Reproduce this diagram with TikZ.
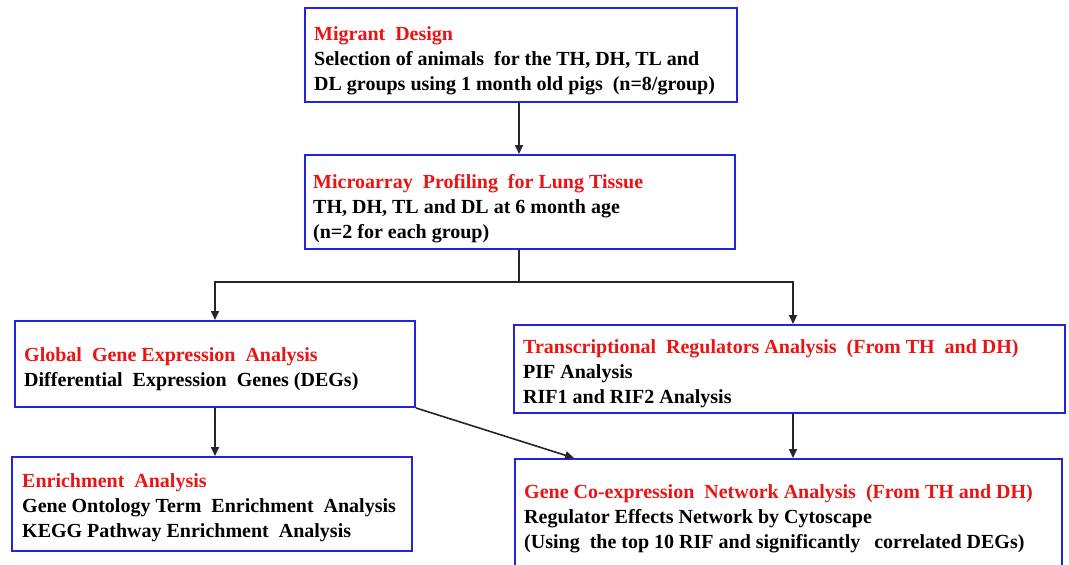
\documentclass[tikz,border=0pt]{standalone}
\usepackage{fontspec}
\setmainfont{Liberation Serif}
\usetikzlibrary{arrows.meta,calc}
\definecolor{boxblue}{RGB}{35,35,225}
\definecolor{headred}{RGB}{235,20,20}
\tikzset{
  box/.style={draw=boxblue, line width=2pt, rectangle, inner sep=0pt},
  txt/.style={anchor=west, align=left, inner sep=0pt, font=\fontsize{20}{25}\selectfont\bfseries},
  arr/.style={draw=black!85, line width=1.6pt, -{Triangle[length=9pt,width=8pt]}},
  lin/.style={draw=black!85, line width=1.6pt},
}
\newcommand{\hd}[1]{\textcolor{headred}{#1}}
\begin{document}
\begin{tikzpicture}[x=1pt,y=-1pt]
\useasboundingbox[fill=white] (0,0) rectangle (1069,565);
% boxes
\node[box, minimum width=432pt, minimum height=94pt] (b1) at (521,55) {};
\node[box, minimum width=430pt, minimum height=94pt] (b2) at (520,202) {};
\node[box, minimum width=400pt, minimum height=86pt] (b3) at (215,364) {};
\node[box, minimum width=551pt, minimum height=88pt] (b4) at (789.5,369) {};
\node[box, minimum width=400pt, minimum height=94pt] (b5) at (212,504) {};
\node[box, minimum width=547pt, minimum height=118pt] (b6) at (788.5,518) {};
% texts
\node[txt] (t1) at ([xshift=10pt,yshift=-6pt]b1.west) {\hd{Migrant\ \ Design}\\Selection of animals\ \ for the TH, DH, TL and\\DL groups using 1 month old pigs\ \ (n=8/group)};
\node[txt] (t2) at ([xshift=9pt,yshift=-7pt]b2.west) {\hd{Microarray\ \ Profiling\ \ for Lung Tissue}\\TH, DH, TL and DL at 6 month age\\(n=2 for each group)};
\node[txt] (t3) at ([xshift=10pt,yshift=-5pt]b3.west) {\hd{Global\ \ Gene Expression\ \ Analysis}\\Differential\ \ Expression\ \ Genes (DEGs)};
\node[txt] (t4) at ([xshift=10pt,yshift=-5pt]b4.west) {\hd{Transcriptional\ \ Regulators Analysis\ \ (From TH\ \ and DH)}\\PIF Analysis\\RIF1 and RIF2 Analysis};
\node[txt] (t5) at ([xshift=11pt,yshift=-4pt]b5.west) {\hd{Enrichment\ \ Analysis}\\Gene Ontology Term\ \ Enrichment\ \ Analysis\\KEGG Pathway Enrichment\ \ Analysis};
\node[txt] (t6) at ([xshift=10pt,yshift=-1pt]b6.west) {\hd{Gene Co-expression\ \ Network Analysis\ \ (From TH and DH)}\\Regulator Effects Network by Cytoscape\\(Using\ \ the top 10 RIF and significantly\hspace{14pt}correlated DEGs)};
% connectors
\coordinate (j) at (519,282);
\draw[arr] ([xshift=-2pt]b1.south) -- ([xshift=-1pt]b2.north);
\draw[lin] ([xshift=-1pt]b2.south) -- (j);
\draw[arr] (j) -| (b3.north);
\draw[arr] (j) -| ([xshift=3.5pt]b4.north);
\draw[arr] (b3.south) -- (b3.south |- b5.north);
\draw[arr] ([xshift=3.5pt]b4.south) -- ([xshift=3.5pt]b4.south |- b6.north);
\draw[arr] (b3.south east) -- ([xshift=60pt]b6.north west);
\end{tikzpicture}
\end{document}
